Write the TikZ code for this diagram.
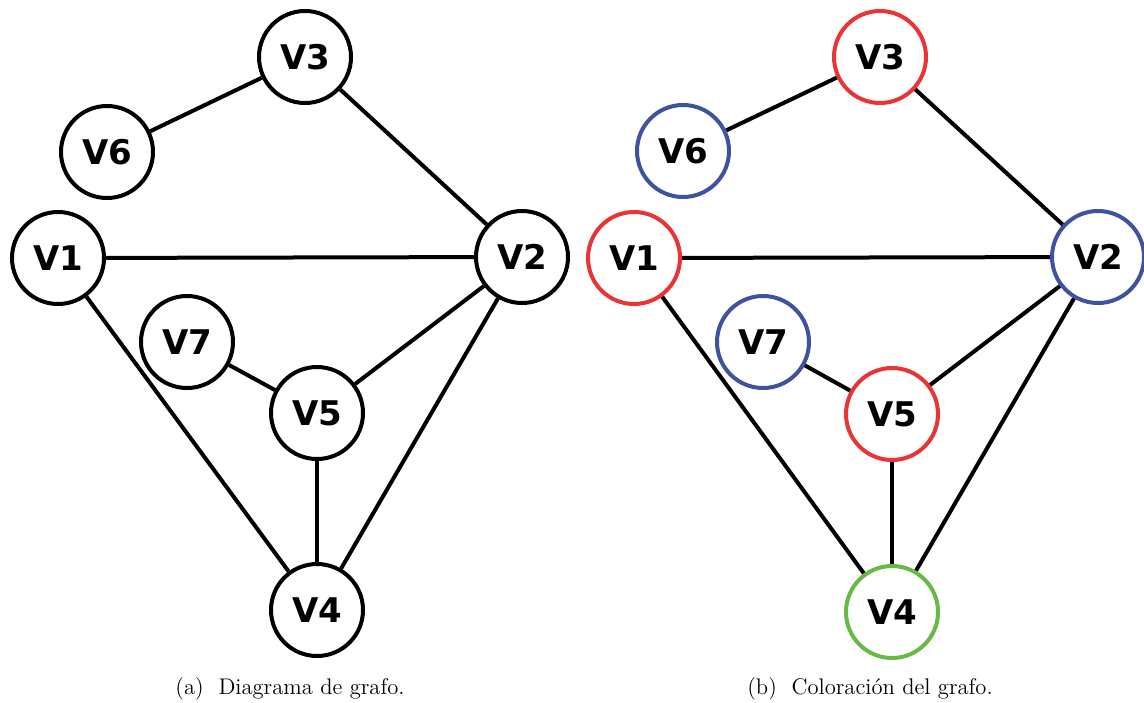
\documentclass[tikz,border=0pt]{standalone}
\usepackage{fontspec}
\newfontfamily\vfont{DejaVu Sans}
\usetikzlibrary{positioning}
\definecolor{cred}{RGB}{232,52,52}
\definecolor{cblue}{RGB}{62,82,160}
\definecolor{cgreen}{RGB}{104,186,70}
\tikzset{
  vert/.style ={draw,circle,line width=2pt,minimum size=46pt,inner sep=0pt,
                font=\vfont\bfseries\fontsize{17}{18}\selectfont,fill=white},
  vred/.style ={vert,draw=cred},
  vblue/.style={vert,draw=cblue},
  vgreen/.style={vert,draw=cgreen},
  ed/.style   ={line width=2pt},
  captext/.style={font=\fontsize{11.3}{13}\selectfont,anchor=center},
}
\begin{document}
\begin{tikzpicture}[x=0.5pt,y=-0.5pt]
\useasboundingbox (0,0) rectangle (1144,702);
% (a) graph
\node[vert] (a3) at (305,57) {V3};
\node[vert] (a6) at (107,152) {V6};
\node[vert] (a1) at (58,258) {V1};
\node[vert] (a2) at (522,257) {V2};
\node[vert] (a7) at (187,342) {V7};
\node[vert] (a5) at (317,413) {V5};
\node[vert] (a4) at (317,610) {V4};
% (b) coloured graph
\node[vred] (b3) at (880,57) {V3};
\node[vblue] (b6) at (683,151) {V6};
\node[vred] (b1) at (634,258) {V1};
\node[vblue] (b2) at (1098,257) {V2};
\node[vblue] (b7) at (763,342) {V7};
\node[vred] (b5) at (892,414) {V5};
\node[vgreen] (b4) at (892,612) {V4};
% edges
\foreach \g in {a,b}{
  \draw[ed] (\g3) -- (\g6);
  \draw[ed] (\g3) -- (\g2);
  \draw[ed] (\g1) -- (\g2);
  \draw[ed] (\g1) -- (\g4);
  \draw[ed] (\g2) -- (\g5);
  \draw[ed] (\g2) -- (\g4);
  \draw[ed] (\g7) -- (\g5);
  \draw[ed] (\g5) -- (\g4);
}
% captions
\node[captext] (ca) at (290,689) {(a)\ \ Diagrama de grafo.};
\node[captext] (cb) at (870,689) {(b)\ \ Coloración del grafo.};
\end{tikzpicture}
\end{document}
